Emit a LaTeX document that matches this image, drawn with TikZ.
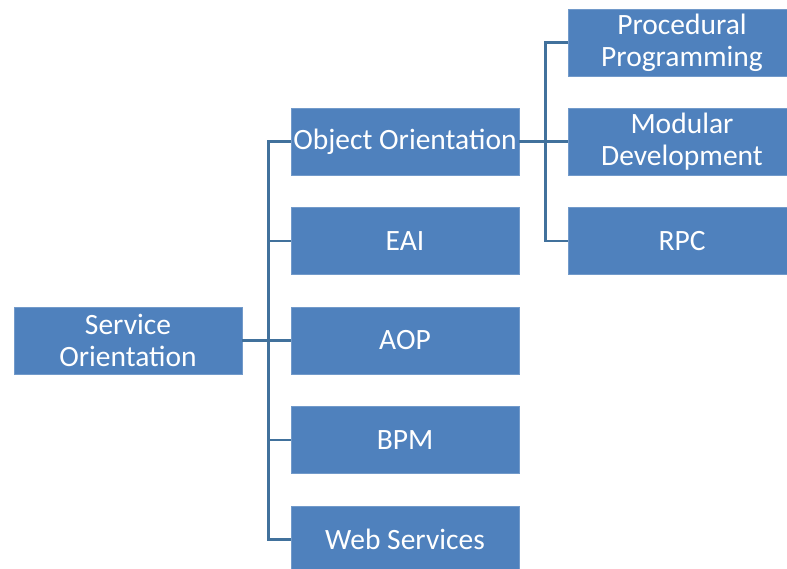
\documentclass[tikz,border=0pt]{standalone}
\usepackage{fontspec}
\setmainfont{Carlito}
\usetikzlibrary{calc}

\definecolor{boxblue}{HTML}{4F81BD}
\definecolor{linkblue}{HTML}{41719C}

\tikzset{
  topic/.style={fill=boxblue, draw=boxblue!80!white, line width=0.6pt,
    minimum width=228pt, minimum height=67pt, inner sep=0pt,
    text=white, align=center,
    font=\fontsize{29.5}{32}\selectfont},
  link/.style={draw=linkblue, line width=2.6pt}
}

\begin{document}
\begin{tikzpicture}[x=1pt, y=-1pt]

\useasboundingbox (0, 0) rectangle (787, 568);

\node[topic] (so) at (128, 340.5) {Service\\Orientation};

\node[topic] (oo)  at (405, 141.5) {Object Orientation};
\node[topic] (eai) at (405, 241)   {EAI};
\node[topic] (aop) at (405, 340.5) {AOP};
\node[topic] (bpm) at (405, 440)   {BPM};
\node[topic] (ws)  at (405, 539.5) {Web Services};

\node[topic] (pp)  at (682, 42.5)  {Procedural\\Programming};
\node[topic] (md)  at (682, 141.5) {Modular\\Development};
\node[topic] (rpc) at (682, 241)   {RPC};

\foreach \n in {oo, eai, aop, bpm, ws}
  \draw[link] (so.east) -- ++(26, 0) |- (\n.west);

\foreach \n in {pp, md, rpc}
  \draw[link] (oo.east) -- ++(26, 0) |- (\n.west);

\end{tikzpicture}
\end{document}
